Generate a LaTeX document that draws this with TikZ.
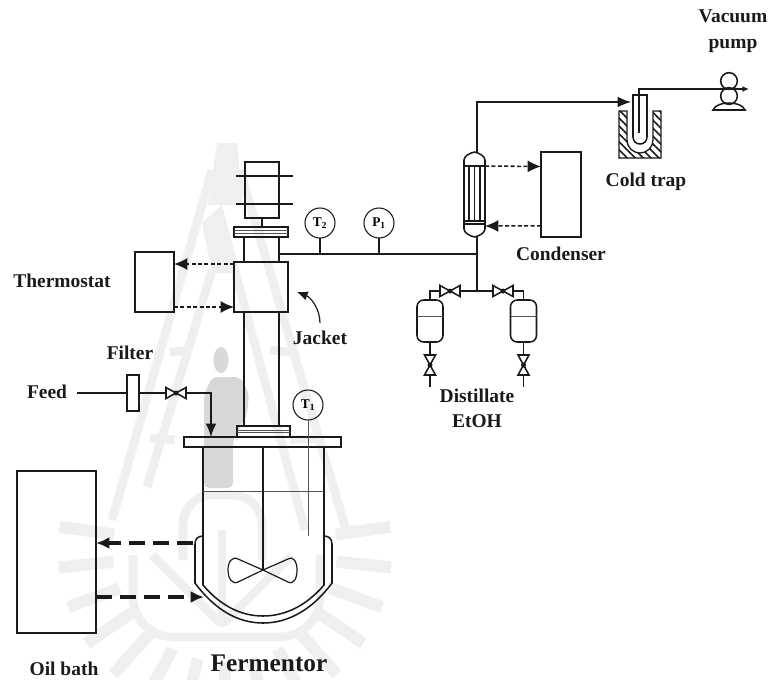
\documentclass[tikz,border=0pt]{standalone}
\usepackage{fontspec}
\setmainfont{Liberation Serif}
\usepackage{xcolor}
\usetikzlibrary{arrows.meta,positioning,patterns.meta}
\definecolor{ink}{HTML}{1A1A1A}
\definecolor{markfill}{HTML}{EFEFEF}
\definecolor{markdark}{HTML}{D8D8D8}
\newcommand{\valveh}[3]{%
  \node[valvebox, wh={20}{11}] (#1) at (#2,#3) {};
  \draw[valveline] (#1.north west) -- (#1.south east) -- (#1.north east) -- (#1.south west) -- cycle;
  \fill[ink] (#1) circle (2.5);}
\newcommand{\valvev}[3]{%
  \node[valvebox, wh={11}{20}] (#1) at (#2,#3) {};
  \draw[valveline] (#1.north west) -- (#1.north east) -- (#1.south west) -- (#1.south east) -- cycle;
  \fill[ink] (#1) circle (2.5);}

\begin{document}
\begin{tikzpicture}[
  x=0.75pt, y=-0.75pt,
  wh/.style 2 args={minimum width=#1*0.75pt, minimum height=#2*0.75pt},
  box/.style={draw=ink, line width=1.15pt, inner sep=0pt, outer sep=0pt},
  drum/.style={box, rounded corners=5pt, wh={26}{42}},
  gauge/.style={draw=ink, line width=0.8pt, circle, inner sep=0pt, outer sep=0pt, minimum size=22.5pt, font=\bfseries\fontsize{10}{12}\selectfont},
  valvebox/.style={inner sep=0pt, outer sep=0pt},
  valveline/.style={draw=ink, line width=1.15pt, fill=white},
  lbl/.style={font=\bfseries\fontsize{14.6}{19}\selectfont, align=center, text=ink, inner sep=0pt},
  pipe/.style={draw=ink, line width=1.15pt},
  thinpipe/.style={draw=ink!75, line width=0.7pt},
  arrow/.style={pipe, -{Latex[length=10pt,width=8pt]}},
  coolarrow/.style={draw=ink, line width=1.15pt, dash pattern=on 3pt off 1.8pt, -{Latex[length=10pt,width=9pt]}},
  heatarrow/.style={draw=ink, line width=2.6pt, dash pattern=on 12pt off 6pt, -{Latex[length=10pt,width=9pt]}},
  markline/.style={draw=markfill, line width=6.5pt}
]
\useasboundingbox (0,0) rectangle (775,679);

\foreach \a in {-8,6,20,34,48,62,76,90,104,118,132,146,160,174,188}
  \draw[markline, line width=9pt] (225,550) ++(\a:112) -- ++(\a:55);
\fill[markfill] (217,143) -- (237,143) -- (243,205) -- (208,205) -- cycle;
\fill[markfill] (202,223) -- (222,205) -- (240,273) -- (212,273) -- cycle;
\draw[markline] (212,170) -- (112,520);
\draw[markline] (212,270) -- (147,487);
\draw[markline] (240,170) -- (347,533);
\draw[markline] (232,260) -- (305,530);
\draw[markline] (190,350) -- (170,352);
\draw[markline] (175,440) -- (150,438);
\draw[markline] (270,350) -- (290,352);
\draw[markline] (290,440) -- (320,438);
\draw[markline, rounded corners=22pt] (183,560) -- (183,495) -- (262,495) -- (262,560);
\draw[markline, rounded corners=30pt] (133,555) -- (133,637) -- (320,637) -- (320,555);
\draw[markline, rounded corners=4pt] (152,555) -- (222,625) -- (292,555);
\draw[markline] (222,625) -- (222,530);
\fill[markdark] (221,360) ellipse (7.5 and 13);
\fill[markdark, rounded corners=4pt] (204,488) -- (204,395) -- (212,377) -- (240,377) -- (249,393) -- (247,415) -- (233,440) -- (233,488) -- cycle;

\node[box, wh={34}{56}] (motor) at (262,190) {};
\draw[pipe] ([yshift=10.5pt]motor.west) ++(-9,0) coordinate (motorlineA) -- ++(57,0);
\draw[pipe] ([yshift=-10.5pt]motor.west) ++(-9,0) coordinate (motorlineB) -- ++(57,0);
\node[box, wh={54}{10}] (upperflange) at (261,232) {};
\draw[thinpipe] ([yshift=1pt]upperflange.west) -- ([yshift=1pt]upperflange.east);
\draw[thinpipe] ([yshift=-1pt]upperflange.west) -- ([yshift=-1pt]upperflange.east);
\draw[pipe] (motor.south) -- (motor.south |- upperflange.north);
\node[box, wh={54}{50}] (jacket) at (261,287) {};
\node[box, wh={53}{11}] (lowerflange) at (263.5,431.5) {};
\draw[thinpipe] ([yshift=0.7pt]lowerflange.west) -- ([yshift=0.7pt]lowerflange.east);
\draw[thinpipe] ([yshift=-0.9pt]lowerflange.west) -- ([yshift=-0.9pt]lowerflange.east);
\node[box, wh={157}{10}] (plate) at (262.5,442) {};
\coordinate (colleft) at (244,237);
\coordinate (colright) at (279,237);
\draw[pipe] (colleft) -- (colleft |- jacket.north);
\draw[pipe] (colright) -- (colright |- jacket.north);
\draw[pipe] (colleft |- jacket.south) -- (colleft |- lowerflange.north);
\draw[pipe] (colright |- jacket.south) -- (colright |- lowerflange.north);

\coordinate (teeleft) at (279,254);
\coordinate (teeright) at (477,254);
\draw[pipe] (teeleft) -- (teeright);
\node[gauge] (gaugeT2) at (320,223) {T\textsubscript{2}};
\node[gauge] (gaugeP1) at (379,223) {P\textsubscript{1}};
\draw[pipe] (gaugeT2.south) -- (gaugeT2.south |- teeleft);
\draw[pipe] (gaugeP1.south) -- (gaugeP1.south |- teeleft);

\node[box, wh={39}{60}] (thermostat) at (154.5,282) {};
\draw[coolarrow] ([yshift=-1.5pt]jacket.north west) -- ([yshift=-9pt]thermostat.north east);
\draw[coolarrow] ([yshift=3.75pt]thermostat.south east) -- ([yshift=3.75pt]jacket.south west);
\node[lbl] (thermostatlbl) at (62,281) {Thermostat};
\node[lbl] (jacketlbl) at (320,338) {Jacket};
\coordinate (jackettip) at (297,292);
\draw[draw=ink, line width=0.9pt, -{Latex[length=8pt,width=7pt]}] (320,323) .. controls (320,308) and (310,297) .. (jackettip);

\node[box, draw=none, wh={21}{85}] (condtube) at (474.5,194.5) {};
\draw[pipe] (464,160) .. controls (464,156) and (470,153) .. (474.5,152) .. controls (479,153) and (485,156) .. (485,160)
  -- (485,229) .. controls (485,233) and (479,236) .. (474.5,237) .. controls (470,236) and (464,233) .. (464,229) -- cycle;
\draw[pipe] (464,166) -- (485,166);
\draw[pipe] (464,221) -- (485,221);
\draw[pipe] (464,224) -- (485,224);
\foreach \tx in {469,474.5,480}
  \draw[pipe] (\tx,166) -- (\tx,221);
\node[box, wh={40}{85}] (condenser) at (561,194.5) {};
\draw[coolarrow] (485,166) -- ([yshift=21pt]condenser.west);
\draw[coolarrow] ([yshift=-23.5pt]condenser.west) -- (485,226);
\node[lbl] (condenserlbl) at (561,254) {Condenser};

\coordinate (condtop) at (477,152);
\coordinate (condbottom) at (477,237);
\coordinate (splitter) at (477,291);
\draw[pipe] (condbottom) -- (splitter);

\node[draw=none, inner sep=0pt] (trapin) at (632,102) {};
\draw[arrow] (condtop) |- (trapin);
\path[pattern={Lines[angle=-45,distance=4.2pt,line width=1.2pt]}, pattern color=ink]
  (619,111) -- (627,111) -- (627,140) .. controls (627,147.2) and (632.8,153) .. (640,153)
  .. controls (647.2,153) and (653,147.2) .. (653,140) -- (653,111) -- (661,111) -- (661,158) -- (619,158) -- cycle;
\draw[draw=ink, line width=1pt]
  (619,111) -- (627,111) -- (627,140) .. controls (627,147.2) and (632.8,153) .. (640,153)
  .. controls (647.2,153) and (653,147.2) .. (653,140) -- (653,111) -- (661,111) -- (661,158) -- (619,158) -- cycle;
\draw[pipe, fill=white] (633,95) -- (633,137) .. controls (633,141) and (636,144) .. (640,144)
  .. controls (644,144) and (647,141) .. (647,137) -- (647,95) -- cycle;
\node[lbl] (coldtraplbl) at (646,182) {Cold trap};
\coordinate (trapinner) at (639,133);

\node[draw=ink, line width=1.15pt, circle, inner sep=0pt, minimum size=12.5pt] (pumptop) at (729,81) {};
\node[draw=ink, line width=1.15pt, circle, inner sep=0pt, minimum size=12.5pt] (pumpbottom) at (729,96) {};
\draw[pipe] (713,110) .. controls (715,105) and (722,103) .. (729,103) .. controls (736,103) and (743,105) .. (745,110) -- cycle;
\coordinate (pumpout) at (749,89);
\draw[pipe, -{Latex[length=5pt,width=4.5pt]}] (trapinner) |- (pumpout);
\node[lbl, font=\bfseries\fontsize{14.6}{19.5}\selectfont] (vacuumlbl) at (733,31) {Vacuum\\pump};

\valveh{valveleft}{450}{291}
\valveh{valveright}{503}{291}
\node[drum] (drumleft) at (430,321) {};
\node[drum] (drumright) at (523.5,321) {};
\draw[thinpipe] (drumleft.west) ++(0,-5) -- ++(26,0);
\draw[thinpipe] (drumright.west) ++(0,-5) -- ++(26,0);
\draw[pipe] (valveleft.east) -- (splitter);
\draw[pipe] (valveright.west) -- (splitter);
\draw[pipe] (valveleft.west) -| (drumleft.north);
\draw[pipe] (valveright.east) -| (drumright.north);
\valvev{valvedrainL}{430}{365}
\valvev{valvedrainR}{523.5}{365}
\draw[pipe] (drumleft.south) -- (valvedrainL.north);
\draw[pipe] (drumright.south) -- (valvedrainR.north);
\draw[pipe] (valvedrainL.south) -- ++(0,12) coordinate (drainL);
\draw[pipe] (valvedrainR.south) -- ++(0,12) coordinate (drainR);
\node[lbl] (distillatelbl) at (477,408) {Distillate\\EtOH};

\node[lbl] (feedlbl) at (47,392) {Feed};
\node[lbl] (filterlbl) at (130,353) {Filter};
\coordinate (feedstart) at (77,393);
\node[box, fill=white, line width=0.8pt, wh={12}{36}] (filter) at (133,393) {};
\valveh{valvefeed}{176}{393}
\draw[draw=ink, line width=0.9pt] (feedstart) -- (filter.west);
\draw[pipe] (filter.east) -- (valvefeed.west);
\coordinate (feedin) at (211,437);
\draw[arrow] (valvefeed.east) -| (feedin);

\node[gauge] (gaugeT1) at (308,405) {T\textsubscript{1}};
\coordinate (probe) at (308,536);
\draw[thinpipe] (gaugeT1.south) -- (probe);

\coordinate (wallleft) at (203,447);
\coordinate (wallright) at (324,447);
\draw[pipe] (wallleft) -- (203,585) .. controls (220,605) and (240,616) .. (263,616)
  .. controls (286,616) and (307,605) .. (324,585) -- (wallright);
\draw[pipe] (203,536) .. controls (198,536) and (195,539) .. (195,544) -- (195,583)
  .. controls (215,610) and (238,623) .. (263,623) .. controls (288,623) and (312,610) .. (332,583)
  -- (332,544) .. controls (332,539) and (329,536) .. (324,536);
\draw[thinpipe] (203,491) -- (324,491);
\coordinate (hub) at (263,570);
\draw[draw=ink, line width=1.9pt] (plate.south -| hub) -- (hub);
\draw[draw=ink, line width=0.9pt] (hub) -- (238,559) .. controls (232,556) and (228,562) .. (228,570)
  .. controls (228,578) and (232,585) .. (238,582) -- (hub)
  -- (288,559) .. controls (294,556) and (297,562) .. (297,570)
  .. controls (297,578) and (294,585) .. (288,582) -- cycle;

\node[box, wh={79}{162}] (oilbath) at (56.5,552) {};
\coordinate (jacketout) at (193,543);
\coordinate (jacketin) at (204,597);
\draw[heatarrow] (jacketout) -- ([yshift=6.75pt]oilbath.east);
\draw[heatarrow] ([yshift=-33.75pt]oilbath.east) -- (jacketin);
\node[lbl] (oilbathlbl) at (64,669) {Oil bath};
\node[lbl, font=\bfseries\fontsize{19}{22}\selectfont] (fermentorlbl) at (269,663) {Fermentor};
\end{tikzpicture}
\end{document}
